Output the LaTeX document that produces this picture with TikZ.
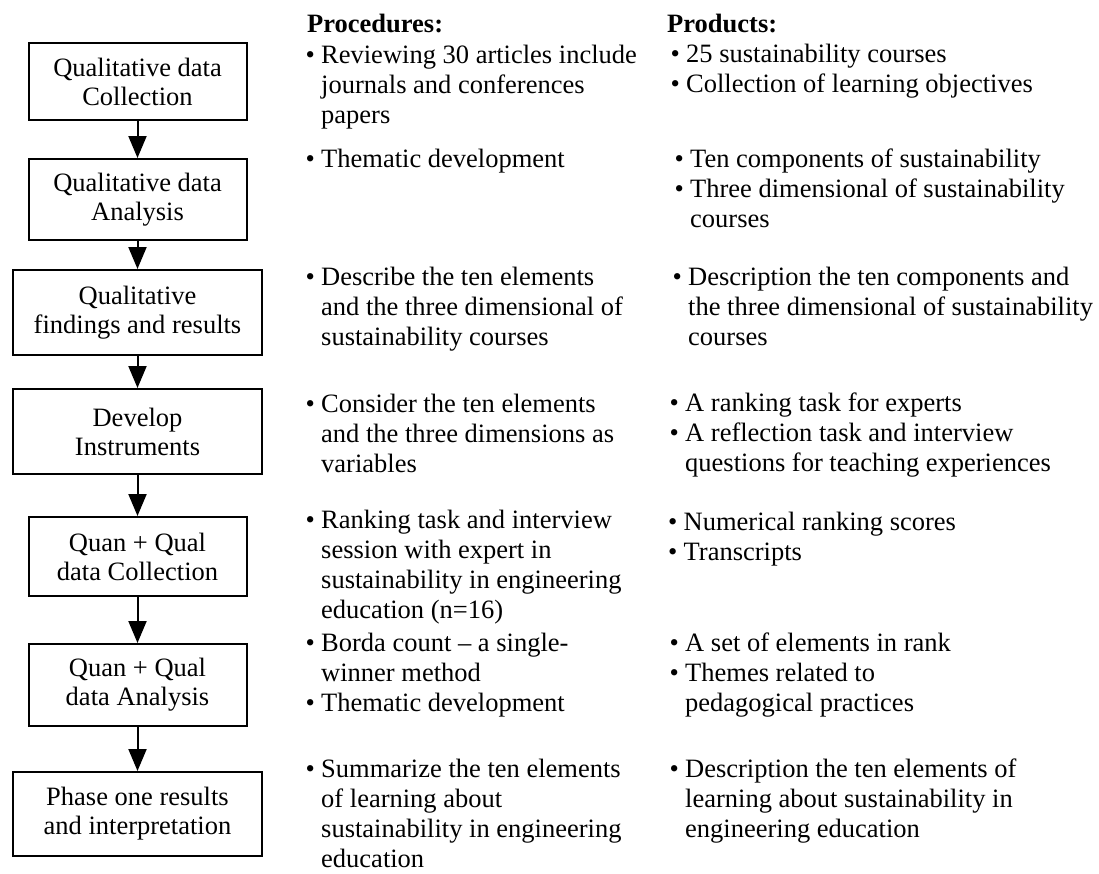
\documentclass[tikz,border=0pt]{standalone}
\usepackage{fontspec}
\setmainfont{Liberation Serif}
\usetikzlibrary{arrows.meta}
\newcommand{\bl}{\makebox[15.5pt][l]{\textbullet}}
\newcommand{\ind}{\hspace*{15.5pt}}
\newcommand{\lst}[1]{\begin{tabular}[t]{@{}l@{}}#1\end{tabular}}
\begin{document}
\begin{tikzpicture}[x=1pt,y=-1pt,
  box/.style={draw, line width=2pt, align=center, inner sep=0pt,
    font=\fontsize{26.5pt}{29pt}\selectfont},
  wide/.style={box, minimum width=249pt},
  narrow/.style={box, minimum width=218pt},
  txt/.style={anchor=base west, inner sep=0pt,
    font=\fontsize{26.5pt}{30pt}\selectfont},
  hdr/.style={txt, font=\fontsize{26.5pt}{30pt}\selectfont\bfseries},
  arr/.style={line width=2pt, -{Triangle[length=22pt,width=18pt]}}]
\useasboundingbox (0,0) rectangle (1099,873);

% flow boxes
\node[narrow, minimum height=77pt] (b1) at (137.5,81.5) {Qualitative data\\Collection};
\node[narrow, minimum height=81pt] (b2) at (137.5,199.5) {Qualitative data\\Analysis};
\node[wide, minimum height=85pt] (b3) at (137.5,312.5) {Qualitative\\findings and results};
\node[wide, minimum height=85pt] (b4) at (137.5,431.5) {Develop\\Instruments};
\node[narrow, minimum height=79pt] (b5) at (137.5,556.5) {Quan + Qual\\data Collection};
\node[narrow, minimum height=82pt] (b6) at (137.5,685) {Quan + Qual\\data Analysis};
\node[wide, minimum height=84pt] (b7) at (137.5,814) {Phase one results\\and interpretation};

\draw[arr] (b1) -- (b2);
\draw[arr] (b2) -- (b3);
\draw[arr] (b3) -- (b4);
\draw[arr] (b4) -- (b5);
\draw[arr] (b5) -- (b6);
\draw[arr] (b6) -- (b7);

% headers
\node[hdr] (hp) at (307,32) {Procedures:};
\node[hdr] (hq) at (667,32) {Products:};

% procedures
\node[txt] (p1) at (305.5,63) {\lst{\bl Reviewing 30 articles include\\\ind journals and conferences\\\ind papers}};
\node[txt] (p2) at (305.5,167) {\lst{\bl Thematic development}};
\node[txt] (p3) at (305.5,285) {\lst{\bl Describe the ten elements\\\ind and the three dimensional of\\\ind sustainability courses}};
\node[txt] (p4) at (305.5,412) {\lst{\bl Consider the ten elements\\\ind and the three dimensions as\\\ind variables}};
\node[txt] (p5) at (305.5,528) {\lst{\bl Ranking task and interview\\\ind session with expert in\\\ind sustainability in engineering\\\ind education (n=16)}};
\node[txt] (p6) at (305.5,651) {\lst{\bl Borda count – a single-\\\ind winner method\\\bl Thematic development}};
\node[txt] (p7) at (305.5,777) {\lst{\bl Summarize the ten elements\\\ind of learning about\\\ind sustainability in engineering\\\ind education}};

% products
\node[txt] (q1) at (670.5,62) {\lst{\bl 25 sustainability courses\\\bl Collection of learning objectives}};
\node[txt] (q2) at (674.5,167) {\lst{\bl Ten components of sustainability\\\bl Three dimensional of sustainability\\\ind courses}};
\node[txt] (q3) at (672.5,285) {\lst{\bl Description the ten components and\\\ind the three dimensional of sustainability\\\ind courses}};
\node[txt] (q4) at (669.5,411) {\lst{\bl A ranking task for experts\\\bl A reflection task and interview\\\ind questions for teaching experiences}};
\node[txt] (q5) at (668,530) {\lst{\bl Numerical ranking scores\\\bl Transcripts}};
\node[txt] (q6) at (669.5,651) {\lst{\bl A set of elements in rank\\\bl Themes related to\\\ind pedagogical practices}};
\node[txt] (q7) at (669.5,777) {\lst{\bl Description the ten elements of\\\ind learning about sustainability in\\\ind engineering education}};
\end{tikzpicture}
\end{document}
